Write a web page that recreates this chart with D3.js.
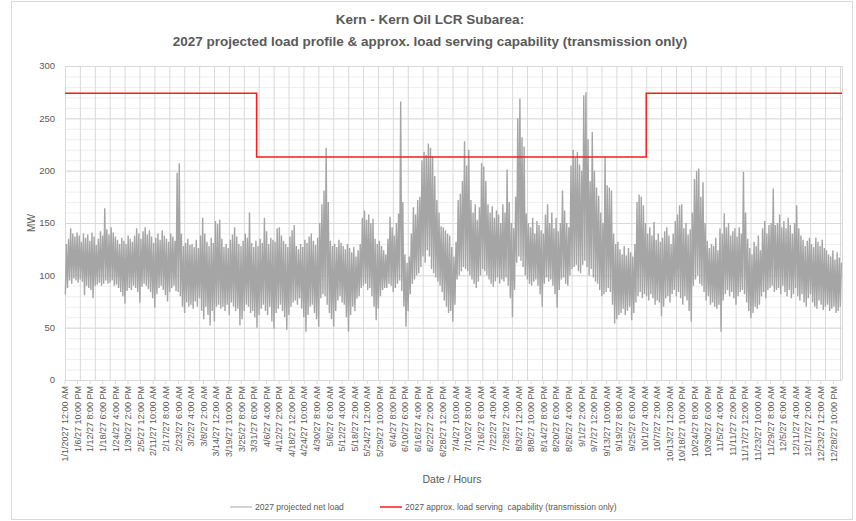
<!DOCTYPE html>
<html lang="en">
<head>
<meta charset="UTF-8">
<script src="https://d3js.org/d3.v7.min.js"></script>
<style>
  body { margin: 0; background: #fff; font-family: "Liberation Sans", Arial, sans-serif; }
  .grid-major line { stroke: #d9d9d9; stroke-width: 1; }
  .grid-minor line { stroke: #efefef; stroke-width: 1; }
  .grid path { stroke: none; }
  .load { fill: none; stroke: #a5a5a5; stroke-width: 1.4; }
  .cap { fill: none; stroke: #ff1a1a; stroke-width: 1.5; }
  .lbl { fill: #595959; }
</style>
</head>
<body>
<script>
// hourly net load drawn from daily troughs / peaks (MW), one row per month
var dailyMin = [
  82,88,95,92,97,95,93,96,94,81,90,88,86,78,90,91,93,90,92,95,92,93,95,90,91,88,84,80,73,85,88,
  86,90,88,84,74,89,92,90,87,84,78,69,82,88,90,86,81,75,84,88,90,85,84,80,70,64,74,70,
  72,68,75,70,78,66,58,70,62,52,66,56,70,72,68,70,66,72,62,74,70,66,68,52,58,66,72,70,64,66,60,
  50,62,68,72,66,62,70,56,49,64,68,72,66,60,48,62,70,74,76,72,78,68,60,46,62,70,72,64,58,51,
  78,82,80,72,64,58,51,66,76,80,74,72,60,46,62,70,66,78,80,88,90,92,86,88,80,70,57,68,80,86,88,
  88,92,90,84,88,92,95,85,70,51,66,82,92,96,100,102,108,118,112,124,118,106,102,98,94,90,84,76,70,64,
  66,56,72,96,100,104,108,106,104,100,96,92,88,94,100,106,104,100,96,92,89,94,98,92,96,94,98,90,78,60,86,
  112,118,114,108,100,96,92,90,94,96,90,82,70,92,98,94,96,90,82,69,86,96,98,92,90,100,106,108,110,104,102,
  110,114,108,100,106,98,94,92,86,80,82,84,88,84,72,54,58,62,64,68,62,66,70,57,64,74,80,84,78,82,
  80,76,82,78,72,76,74,61,70,78,80,74,82,86,80,84,78,72,80,76,66,56,90,96,100,92,90,84,76,80,72,
  74,70,68,72,46,76,82,86,80,84,78,72,80,84,86,82,74,66,59,64,70,68,72,80,84,78,86,88,90,84,
  86,88,82,90,84,80,86,78,82,88,80,76,82,74,70,78,82,74,70,68,76,72,67,70,72,66,68,70,64,66,70
];
var dailyMax = [
  130,135,145,140,137,141,138,132,140,136,139,133,141,137,129,135,142,138,164,144,139,146,141,137,134,130,136,133,130,138,135,
  132,138,145,140,135,142,146,139,143,137,131,136,140,134,143,138,135,132,140,137,133,198,207,140,128,131,135,129,
  130,127,134,126,138,155,140,132,128,136,131,152,149,153,135,127,130,126,134,139,146,137,130,128,133,140,136,160,131,127,133,
  128,135,131,155,142,130,136,134,132,145,146,138,133,130,127,137,143,148,128,125,130,127,134,131,137,140,133,129,136,150,
  168,181,222,170,133,128,130,127,134,131,128,125,130,126,122,127,118,124,130,155,162,153,158,150,154,135,130,133,128,124,120,
  135,156,146,138,150,159,266,170,120,112,118,140,165,158,172,175,210,218,215,226,222,214,195,172,160,147,146,143,140,138,
  127,118,132,172,178,190,228,205,220,172,160,168,153,165,207,204,190,168,160,166,155,162,158,150,168,160,201,170,150,145,175,
  250,269,232,223,159,150,146,155,140,152,148,143,140,158,168,150,160,145,155,142,150,181,162,150,146,205,220,212,218,206,200,
  272,275,230,190,237,200,184,176,160,150,213,186,184,181,140,130,132,125,120,128,119,126,122,118,130,170,177,175,167,150,
  140,146,138,151,134,140,132,136,142,146,138,130,140,152,158,167,168,145,150,139,144,160,192,200,202,175,189,150,133,126,130,
  128,136,124,145,140,159,146,150,138,142,145,137,146,140,199,160,135,126,120,132,128,138,124,145,152,140,148,150,183,148,
  150,158,146,152,145,155,148,140,150,167,145,138,134,128,133,136,130,127,136,132,128,134,126,124,120,118,124,115,122,117,112
];

// approx. load serving capability (transmission only), MW, step changes at these hours
var capHours = [0, 2160, 6552, 8759];
var capValues = [274, 213, 274, 274];

// category labels shown every 142 hours
var tickLabels = [
  "1/1/2027 12:00 AM","1/6/27 10:00 PM","1/12/27 8:00 PM","1/18/27 6:00 PM","1/24/27 4:00 PM","1/30/27 2:00 PM",
  "2/5/27 12:00 PM","2/11/27 10:00 AM","2/17/27 8:00 AM","2/23/27 6:00 AM","3/2/27 4:00 AM","3/8/27 2:00 AM",
  "3/14/27 12:00 AM","3/19/27 10:00 PM","3/25/27 8:00 PM","3/31/27 6:00 PM","4/6/27 4:00 PM","4/12/27 2:00 PM",
  "4/18/27 12:00 PM","4/24/27 10:00 AM","4/30/27 8:00 AM","5/6/27 6:00 AM","5/12/27 4:00 AM","5/18/27 2:00 AM",
  "5/24/27 12:00 AM","5/29/27 10:00 PM","6/4/27 8:00 PM","6/10/27 6:00 PM","6/16/27 4:00 PM","6/22/27 2:00 PM",
  "6/28/27 12:00 PM","7/4/27 10:00 AM","7/10/27 8:00 AM","7/16/27 6:00 AM","7/22/27 4:00 AM","7/28/27 2:00 AM",
  "8/3/27 12:00 AM","8/8/27 10:00 PM","8/14/27 8:00 PM","8/20/27 6:00 PM","8/26/27 4:00 PM","9/1/27 2:00 PM",
  "9/7/27 12:00 PM","9/13/27 10:00 AM","9/19/27 8:00 AM","9/25/27 6:00 AM","10/1/27 4:00 AM","10/7/27 2:00 AM",
  "10/13/27 12:00 AM","10/18/27 10:00 PM","10/24/27 8:00 PM","10/30/27 6:00 PM","11/5/27 4:00 PM","11/11/27 2:00 PM",
  "11/17/27 12:00 PM","11/23/27 10:00 AM","11/29/27 8:00 AM","12/5/27 6:00 AM","12/11/27 4:00 AM","12/17/27 2:00 AM",
  "12/23/27 12:00 AM","12/28/27 10:00 PM"
];
var labelStep = 142;
var yTicks = [0, 50, 100, 150, 200, 250, 300];
var hoursInYear = 8760;

var W = 856, H = 521;
var margin = {top: 66, right: 14, bottom: 141, left: 65};
var width = W - margin.left - margin.right,
    height = H - margin.top - margin.bottom;

var svg = d3.select("body").append("svg")
  .attr("width", W)
  .attr("height", H);

// chart area border
svg.append("rect")
  .attr("x", 11.5).attr("y", 1.5)
  .attr("width", 841).attr("height", 518)
  .attr("fill", "#fff").attr("stroke", "#d9d9d9");

var g = svg.append("g")
  .attr("transform", "translate(" + margin.left + "," + margin.top + ")");

var x = d3.scaleLinear().domain([0, hoursInYear - 1]).range([0, width]);
var y = d3.scaleLinear().domain([0, 300]).range([height, 0]);

// gridlines
g.append("g")
  .attr("class", "grid grid-minor")
  .call(d3.axisLeft(y).tickValues(d3.range(0, 301, 10)).tickSize(-width).tickFormat(""));
g.append("g")
  .attr("class", "grid grid-major")
  .call(d3.axisLeft(y).tickValues(yTicks).tickSize(-width).tickFormat(""));
g.append("g")
  .attr("class", "grid grid-major")
  .attr("transform", "translate(0," + height + ")")
  .call(d3.axisBottom(x).tickValues(d3.range(0, hoursInYear, 168).concat([hoursInYear - 1]))
    .tickSize(-height).tickFormat(""));

// y axis labels
g.append("g").selectAll("text")
  .data(yTicks)
  .enter().append("text")
  .attr("class", "lbl")
  .attr("x", -10)
  .attr("y", function(d) { return y(d); })
  .attr("dy", "0.35em")
  .attr("text-anchor", "end")
  .style("font-size", "9.5px")
  .text(function(d) { return d; });

// x axis line, ticks and rotated labels
g.append("line")
  .attr("x1", 0).attr("x2", width)
  .attr("y1", height + 0.5).attr("y2", height + 0.5)
  .attr("stroke", "#d9d9d9");

var xl = g.append("g").selectAll("g")
  .data(tickLabels)
  .enter().append("g")
  .attr("transform", function(d, i) { return "translate(" + x(i * labelStep) + "," + height + ")"; });
xl.append("line")
  .attr("y1", 0).attr("y2", 4)
  .attr("stroke", "#d9d9d9");
xl.append("text")
  .attr("class", "lbl")
  .attr("transform", "rotate(-90)")
  .attr("x", -6)
  .attr("y", 0)
  .attr("dy", "0.35em")
  .attr("text-anchor", "end")
  .style("font-size", "9px")
  .text(function(d) { return d; });

// net load series: each day goes trough -> peak
var loadPts = [];
dailyMin.forEach(function(v, d) {
  loadPts.push({h: d * 24 + 4, v: v});
  loadPts.push({h: d * 24 + 16, v: dailyMax[d]});
});

var line = d3.line()
  .x(function(d) { return x(d.h); })
  .y(function(d) { return y(d.v); });

g.append("path")
  .datum(loadPts)
  .attr("class", "load")
  .attr("d", line);

var capPts = capHours.map(function(h, i) { return {h: h, v: capValues[i]}; });
g.append("path")
  .datum(capPts)
  .attr("class", "cap")
  .attr("d", line.curve(d3.curveStepAfter));

// axis titles
svg.append("text")
  .attr("class", "lbl")
  .attr("transform", "translate(35," + (margin.top + height / 2) + ")rotate(-90)")
  .attr("text-anchor", "middle")
  .style("font-size", "10px")
  .text("MW");

svg.append("text")
  .attr("class", "lbl")
  .attr("x", 452).attr("y", 483)
  .attr("text-anchor", "middle")
  .style("font-size", "10.5px")
  .text("Date / Hours");

// title
var title = svg.append("text")
  .attr("text-anchor", "middle")
  .style("font-size", "13.5px")
  .style("font-weight", "bold")
  .attr("fill", "#595959");
title.append("tspan").attr("x", 430).attr("y", 24).text("Kern - Kern Oil LCR Subarea:");
title.append("tspan").attr("x", 430).attr("y", 46).text("2027 projected load profile & approx. load serving capability (transmission only)");

// legend
var legendItems = [
  {name: "2027 projected net load", color: "#a5a5a5", w: 1, x: 230},
  {name: "2027 approx. load serving  capability (transmission only)", color: "#ff1a1a", w: 1.5, x: 380}
];
var lg = svg.append("g").selectAll("g")
  .data(legendItems)
  .enter().append("g")
  .attr("transform", function(d) { return "translate(" + d.x + ",507)"; });
lg.append("line")
  .attr("x1", 0).attr("x2", 22)
  .attr("stroke", function(d) { return d.color; })
  .attr("stroke-width", function(d) { return d.w; });
lg.append("text")
  .attr("class", "lbl")
  .attr("x", 25)
  .attr("dy", "0.35em")
  .style("font-size", "8.5px")
  .style("white-space", "pre")
  .text(function(d) { return d.name; });
</script>
</body>
</html>
